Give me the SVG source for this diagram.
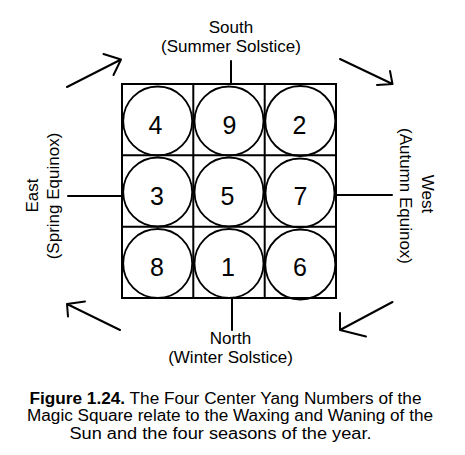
<svg xmlns="http://www.w3.org/2000/svg" width="465" height="455" viewBox="0 0 465 455">
<style>
text{font-family:"Liberation Sans",Arial,sans-serif;fill:#000}
.lbl{font-size:17px;text-anchor:middle}
.num{font-size:25px;text-anchor:middle}
.cap{font-size:16px;text-anchor:middle}
.ln{stroke:#000;stroke-width:2;fill:none;stroke-linecap:round;stroke-linejoin:round}
.cell{stroke:#000;stroke-width:2;fill:#fff}
.circ{stroke:#000;stroke-width:1.8;fill:none}
</style>
<rect width="465" height="455" fill="#fff"/>
<g id="connectors">
<line class="ln" x1="231" y1="61" x2="231" y2="84"/>
<line class="ln" x1="232" y1="298" x2="232" y2="330"/>
<line class="ln" x1="68" y1="196" x2="122" y2="196"/>
<line class="ln" x1="336" y1="195" x2="392" y2="195"/>
<path class="ln" d="M67,87 L121,59.5 M103.5,54 L121,59.5 L113.5,75"/>
<path class="ln" d="M340,59 L392.5,84 M390,71 L392.5,84 L377,85"/>
<path class="ln" d="M120,330 L67,304 M85,301.5 L67,304 L68,316.5"/>
<path class="ln" d="M392.5,302 L340,330 M340,313 L340,330 L366,336.5"/>
</g>
<g id="grid">
<rect class="cell" x="122" y="84" width="214" height="214"/>
<line class="ln" x1="193.3" y1="84" x2="193.3" y2="298"/>
<line class="ln" x1="264.7" y1="84" x2="264.7" y2="298"/>
<line class="ln" x1="122" y1="155.3" x2="336" y2="155.3"/>
<line class="ln" x1="122" y1="226.7" x2="336" y2="226.7"/>
</g>
<g id="n4"><circle class="circ" cx="157.7" cy="121" r="34.5"/><text class="num" x="155.5" y="133.5">4</text></g>
<g id="n9"><circle class="circ" cx="229" cy="121" r="34.5"/><text class="num" x="229.5" y="133.5">9</text></g>
<g id="n2"><circle class="circ" cx="300.3" cy="121" r="35"/><text class="num" x="299.5" y="133.5">2</text></g>
<g id="n3"><circle class="circ" cx="157.7" cy="192" r="34.5"/><text class="num" x="157" y="204.5">3</text></g>
<g id="n5"><circle class="circ" cx="229" cy="192" r="34.5"/><text class="num" x="227.5" y="204.5">5</text></g>
<g id="n7"><circle class="circ" cx="300" cy="193" r="34.5"/><text class="num" x="300.5" y="204.5">7</text></g>
<g id="n8"><circle class="circ" cx="157.7" cy="263.5" r="34.5"/><text class="num" x="157" y="275.5">8</text></g>
<g id="n1"><circle class="circ" cx="229" cy="263.5" r="34.5"/><text class="num" x="228" y="275.5">1</text></g>
<g id="n6"><circle class="circ" cx="300.3" cy="264.5" r="35"/><text class="num" x="300" y="275.5">6</text></g>
<g id="south">
<text class="lbl" x="231" y="33.3">South</text>
<text class="lbl" x="231" y="52">(Summer Solstice)</text>
</g>
<g id="north">
<text class="lbl" x="230.5" y="344">North</text>
<text class="lbl" x="230.5" y="363">(Winter Solstice)</text>
</g>
<g id="east">
<text class="lbl" transform="translate(38.3,195.5) rotate(-90)">East</text>
<text class="lbl" transform="translate(59.3,196) rotate(-90)">(Spring Equinox)</text>
</g>
<g id="west">
<text class="lbl" transform="translate(421.7,194) rotate(90)">West</text>
<text class="lbl" transform="translate(400,196) rotate(90)">(Autumn Equinox)</text>
</g>
<g id="caption">
<text class="cap" x="225.5" y="404" textLength="392" lengthAdjust="spacingAndGlyphs"><tspan font-weight="bold">Figure 1.24.</tspan> The Four Center Yang Numbers of the</text>
<text class="cap" x="230" y="421" textLength="406" lengthAdjust="spacingAndGlyphs">Magic Square relate to the Waxing and Waning of the</text>
<text class="cap" x="220.5" y="438.5" textLength="302" lengthAdjust="spacingAndGlyphs">Sun and the four seasons of the year.</text>
</g>
</svg>
